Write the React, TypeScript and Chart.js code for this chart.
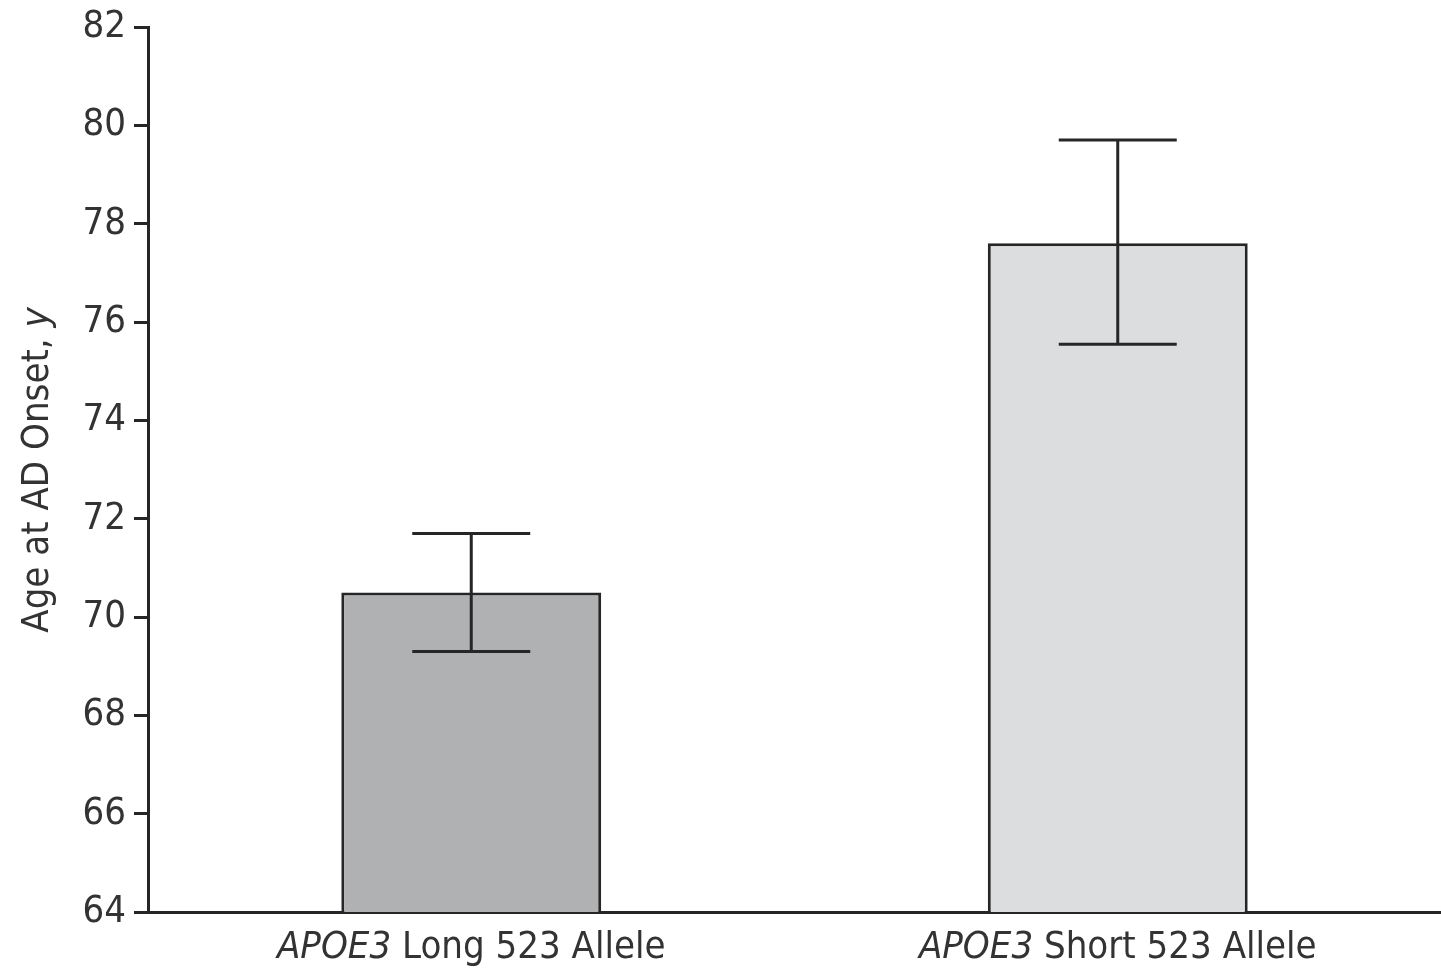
import React, { useEffect, useRef } from "react";
import { Chart, registerables } from "chart.js";

Chart.register(...registerables);

const categories = ["Long", "Short"];
const italicPrefix = "APOE3";
const labelSuffixes = [" Long 523 Allele", " Short 523 Allele"];
const meanAge = [70.5, 77.6];
const errHigh = [71.7, 79.7];
const errLow = [69.3, 75.55];
const barColors = ["#b0b1b3", "#dcdddf"];
const yTitleMain = "Age at AD Onset, ";
const yTitleItalic = "y";

const FONT = "'Liberation Sans Narrow', 'DejaVu Sans Condensed', 'Liberation Sans', sans-serif";
const TEXT = "#333333";
const LINE = "#262626";

const customPlugin = {
  id: "custom",
  afterDatasetsDraw(chart: any) {
    const ctx = chart.ctx;
    const x = chart.scales.x;
    const y = chart.scales.y;
    const meta = chart.getDatasetMeta(0);
    ctx.save();
    // error bars
    ctx.strokeStyle = LINE;
    ctx.lineWidth = 3;
    meta.data.forEach((bar: any, i: number) => {
      const cx = bar.x;
      const half = bar.width * 0.227;
      const yh = y.getPixelForValue(errHigh[i]);
      const yl = y.getPixelForValue(errLow[i]);
      ctx.beginPath();
      ctx.moveTo(cx, yh);
      ctx.lineTo(cx, yl);
      ctx.moveTo(cx - half, yh);
      ctx.lineTo(cx + half, yh);
      ctx.moveTo(cx - half, yl);
      ctx.lineTo(cx + half, yl);
      ctx.stroke();
    });
    // x labels with italic prefix
    ctx.fillStyle = TEXT;
    ctx.textBaseline = "middle";
    ctx.textAlign = "left";
    categories.forEach((_c, i) => {
      const cx = x.getPixelForValue(i);
      ctx.font = `italic 38px ${FONT}`;
      const w1 = ctx.measureText(italicPrefix).width;
      ctx.font = `38px ${FONT}`;
      const w2 = ctx.measureText(labelSuffixes[i]).width;
      const start = cx - (w1 + w2) / 2;
      const ty = chart.chartArea.bottom + 36;
      ctx.font = `italic 38px ${FONT}`;
      ctx.fillText(italicPrefix, start, ty);
      ctx.font = `38px ${FONT}`;
      ctx.fillText(labelSuffixes[i], start + w1, ty);
    });
    // y title
    ctx.translate(38, 470);
    ctx.rotate(-Math.PI / 2);
    ctx.font = `38px ${FONT}`;
    const a = ctx.measureText(yTitleMain).width;
    ctx.font = `italic 38px ${FONT}`;
    const b = ctx.measureText(yTitleItalic).width;
    const s = -(a + b) / 2;
    ctx.font = `38px ${FONT}`;
    ctx.fillText(yTitleMain, s, 0);
    ctx.font = `italic 38px ${FONT}`;
    ctx.fillText(yTitleItalic, s + a, 0);
    ctx.restore();
  },
};

export default function App() {
  const ref = useRef<HTMLCanvasElement>(null);
  useEffect(() => {
    if (!ref.current) return;
    const chart = new Chart(ref.current, {
      type: "bar",
      data: {
        labels: categories,
        datasets: [
          {
            data: meanAge,
            backgroundColor: barColors,
            borderColor: LINE,
            borderWidth: 3,
            borderSkipped: false,
            barPercentage: 0.402,
            categoryPercentage: 1,
          },
        ],
      },
      options: {
        animation: false,
        responsive: true,
        maintainAspectRatio: false,
        layout: { padding: { top: 26, right: -4, bottom: 0, left: 0 } },
        plugins: { legend: { display: false }, tooltip: { enabled: false } },
        scales: {
          x: {
            grid: { display: false },
            border: { display: true, color: LINE, width: 3 },
            ticks: { display: false },
            afterFit: (s: any) => {
              s.height = 57;
            },
          },
          y: {
            min: 64,
            max: 82,
            ticks: {
              stepSize: 2,
              color: TEXT,
              padding: 8,
              font: { family: FONT, size: 38, lineHeight: 1 },
            },
            grid: {
              display: true,
              drawOnChartArea: false,
              drawTicks: true,
              tickLength: 14,
              tickWidth: 3,
              color: LINE,
            },
            border: { display: true, color: LINE, width: 3 },
            afterFit: (s: any) => {
              s.width = 148;
            },
          },
        },
      },
      plugins: [customPlugin],
    });
    return () => chart.destroy();
  }, []);
  return (
    <div style={{ position: "fixed", left: 0, top: 0, width: 1441, height: 969, background: "#fff" }}>
      <canvas ref={ref} />
    </div>
  );
}
